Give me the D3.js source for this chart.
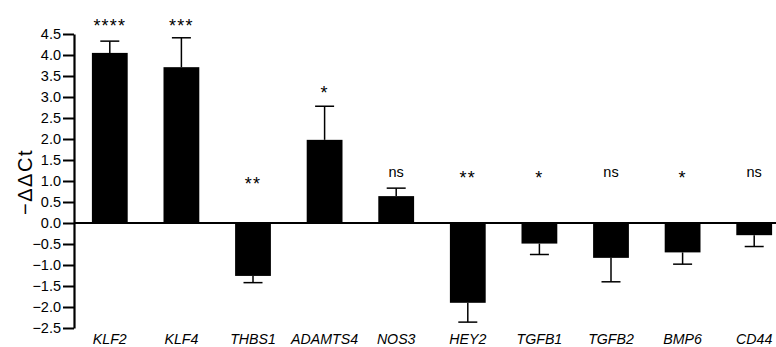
<!DOCTYPE html>
<html lang="en">
<head>
    <meta charset="UTF-8">
    <title>-ddCt by gene</title>
    <script src="https://d3js.org/d3.v7.min.js"></script>
    <style>
        body {
            margin: 0;
            padding: 0;
            background-color: #fff;
        }
        svg {
            display: block;
            font-family: "Liberation Sans", Arial, Helvetica, sans-serif;
        }
    </style>
</head>
<body>
    <div id="chart"></div>

    <script>
        // Genes on the x axis
        const genes = ["KLF2", "KLF4", "THBS1", "ADAMTS4", "NOS3", "HEY2", "TGFB1", "TGFB2", "BMP6", "CD44"];
        // Mean -ddCt per gene
        const means = [4.05, 3.71, -1.26, 1.98, 0.64, -1.90, -0.49, -0.83, -0.70, -0.29];
        // Error (SEM), drawn away from zero only
        const errors = [0.28, 0.70, 0.16, 0.80, 0.19, 0.46, 0.26, 0.57, 0.28, 0.27];
        // Significance labels and the level (in -ddCt units) they sit at
        const sigLabels = ["****", "***", "**", "*", "ns", "**", "*", "ns", "*", "ns"];
        const sigLevels = [4.81, 4.81, 1.05, 3.21, 1.17, 1.19, 1.19, 1.17, 1.19, 1.17];
        const yTicks = [-2.5, -2.0, -1.5, -1.0, -0.5, 0.0, 0.5, 1.0, 1.5, 2.0, 2.5, 3.0, 3.5, 4.0, 4.5];

        const W = 776, H = 347;

        const svg = d3.select("#chart").append("svg")
            .attr("width", W)
            .attr("height", H);

        // the band runs a bit past the right edge, the last bar is cut in the original too
        const x = d3.scaleBand()
            .domain(genes)
            .range([74, 790])
            .paddingInner(0.5)
            .paddingOuter(0.25);

        const y = d3.scaleLinear()
            .domain([-2.5, 4.5])
            .range([328, 34]);

        // zero line across the plot
        svg.append("line")
            .attr("x1", 74)
            .attr("x2", W)
            .attr("y1", y(0))
            .attr("y2", y(0))
            .style("stroke", "#000")
            .style("stroke-width", 2);

        // bars
        svg.selectAll(".bar")
            .data(genes)
            .enter().append("rect")
            .attr("class", "bar")
            .attr("x", d => x(d))
            .attr("width", x.bandwidth())
            .attr("y", (d, i) => y(Math.max(0, means[i])))
            .attr("height", (d, i) => Math.abs(y(means[i]) - y(0)))
            .style("fill", "#000");

        // error bars (one sided)
        const capW = 19;
        genes.forEach((g, i) => {
            const cx = x(g) + x.bandwidth() / 2;
            const end = means[i] >= 0 ? means[i] + errors[i] : means[i] - errors[i];
            svg.append("line")
                .attr("x1", cx).attr("x2", cx)
                .attr("y1", y(means[i])).attr("y2", y(end))
                .style("stroke", "#000")
                .style("stroke-width", 1.5);
            svg.append("line")
                .attr("x1", cx - capW / 2).attr("x2", cx + capW / 2)
                .attr("y1", y(end)).attr("y2", y(end))
                .style("stroke", "#000")
                .style("stroke-width", 1.5);
        });

        // y axis
        const yAxis = svg.append("g")
            .attr("transform", "translate(74,0)")
            .call(d3.axisLeft(y)
                .tickValues(yTicks)
                .tickFormat(d3.format(".1f"))
                .tickSize(11)
                .tickSizeOuter(0)
                .tickPadding(2));
        yAxis.select(".domain").style("stroke-width", 2.2);
        yAxis.selectAll(".tick line").style("stroke-width", 2);
        yAxis.selectAll(".tick text")
            .style("font-size", "14.5px")
            .style("font-family", "'Liberation Sans', Arial, sans-serif")
            .attr("fill", "#000");

        // y axis title
        svg.append("text")
            .attr("transform", `translate(32,${(y(4.5) + y(-2.5)) / 2 + 1}) rotate(-90)`)
            .attr("text-anchor", "middle")
            .style("font-size", "20px")
            .style("letter-spacing", "1.5px")
            .text("\u2212\u0394\u0394Ct");

        // gene labels
        svg.selectAll(".gene")
            .data(genes)
            .enter().append("text")
            .attr("class", "gene")
            .attr("x", d => x(d) + x.bandwidth() / 2)
            .attr("y", 344)
            .attr("text-anchor", "middle")
            .style("font-size", "14.2px")
            .style("font-style", "italic")
            .text(d => d);

        // significance marks
        svg.selectAll(".sig")
            .data(genes)
            .enter().append("text")
            .attr("class", "sig")
            .attr("x", d => x(d) + x.bandwidth() / 2)
            .attr("y", (d, i) => y(sigLevels[i]))
            .attr("dy", (d, i) => sigLabels[i] === "ns" ? "0.25em" : "0.62em")
            .attr("text-anchor", "middle")
            .style("font-size", (d, i) => sigLabels[i] === "ns" ? "14.5px" : "18px")
            .style("letter-spacing", (d, i) => sigLabels[i] === "ns" ? "0px" : "1.2px")
            .text((d, i) => sigLabels[i]);
    </script>
</body>
</html>
